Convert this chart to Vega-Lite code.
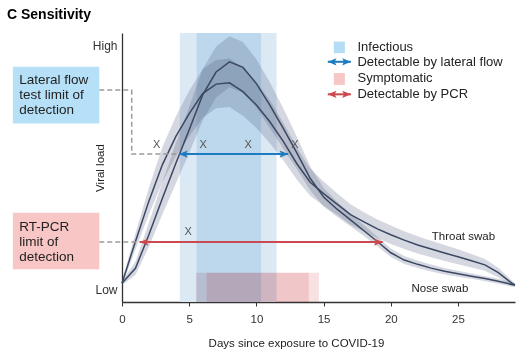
{
  "$schema": "https://vega.github.io/schema/vega-lite/v6.json",
  "width": 393,
  "height": 269,
  "autosize": {"type": "none"},
  "padding": {"left": 122, "top": 33, "right": 15, "bottom": 57},
  "background": "white",
  "title": {"text": "C Sensitivity", "anchor": "start", "frame": "group", "dx": -115, "offset": 11, "fontSize": 14, "fontWeight": "bold", "font": "Liberation Sans", "color": "#000"},
  "resolve": {"scale": {"color": "independent", "shape": "independent"}},
  "config": {
    "view": {"stroke": null},
    "font": "Liberation Sans",
    "axis": {"grid": false, "domainColor": "#333", "domainWidth": 1.3, "tickColor": "#333", "labelColor": "#333", "titleColor": "#222", "labelFont": "Liberation Sans", "titleFont": "Liberation Sans", "titleFontWeight": "normal", "zindex": 1}
  },
  "datasets": {
    "inf": [
      {"x": 4.3, "x2": 11.5, "v": 0, "v2": 100, "k": "a"},
      {"x": 5.55, "x2": 10.35, "v": 0, "v2": 100, "k": "b"}
    ],
    "symp": [
      {"x": 5.5, "x2": 14.65, "v": 0, "v2": 10.9},
      {"x": 6.3, "x2": 13.9, "v": 0, "v2": 10.9}
    ],
    "curves": [
      {"x": 0, "s": "Nose", "v": 7.0, "lo": 6.2, "hi": 7.8},
      {"x": 1, "s": "Nose", "v": 12.5, "lo": 10, "hi": 15},
      {"x": 2, "s": "Nose", "v": 25, "lo": 20.5, "hi": 29.5},
      {"x": 3, "s": "Nose", "v": 38.5, "lo": 32.5, "hi": 44.5},
      {"x": 4, "s": "Nose", "v": 51.5, "lo": 44, "hi": 59},
      {"x": 5, "s": "Nose", "v": 64, "lo": 55.5, "hi": 72.5},
      {"x": 6, "s": "Nose", "v": 77, "lo": 67.5, "hi": 86.5},
      {"x": 7, "s": "Nose", "v": 85.5, "lo": 76, "hi": 95},
      {"x": 8, "s": "Nose", "v": 89.3, "lo": 79.8, "hi": 98.8},
      {"x": 9, "s": "Nose", "v": 87.2, "lo": 77.7, "hi": 96.7},
      {"x": 10, "s": "Nose", "v": 81.2, "lo": 72.2, "hi": 90.2},
      {"x": 11, "s": "Nose", "v": 73.2, "lo": 64.7, "hi": 81.7},
      {"x": 12, "s": "Nose", "v": 64.5, "lo": 57, "hi": 72},
      {"x": 13, "s": "Nose", "v": 55.5, "lo": 49.5, "hi": 61.5},
      {"x": 14, "s": "Nose", "v": 46, "lo": 41.5, "hi": 50.5},
      {"x": 15, "s": "Nose", "v": 39, "lo": 35.5, "hi": 42.5},
      {"x": 16, "s": "Nose", "v": 34.5, "lo": 31.7, "hi": 37.3},
      {"x": 17, "s": "Nose", "v": 30.5, "lo": 28.2, "hi": 32.8},
      {"x": 18, "s": "Nose", "v": 26.5, "lo": 24.5, "hi": 28.5},
      {"x": 19, "s": "Nose", "v": 22.5, "lo": 20.7, "hi": 24.3},
      {"x": 20, "s": "Nose", "v": 18.3, "lo": 16.7, "hi": 19.9},
      {"x": 21, "s": "Nose", "v": 15.6, "lo": 14.1, "hi": 17.1},
      {"x": 22, "s": "Nose", "v": 14, "lo": 12.6, "hi": 15.4},
      {"x": 23, "s": "Nose", "v": 12.6, "lo": 11.3, "hi": 13.9},
      {"x": 24, "s": "Nose", "v": 11.4, "lo": 10.2, "hi": 12.6},
      {"x": 25, "s": "Nose", "v": 10.5, "lo": 9.4, "hi": 11.6},
      {"x": 26, "s": "Nose", "v": 9.6, "lo": 8.6, "hi": 10.6},
      {"x": 27, "s": "Nose", "v": 8.7, "lo": 7.7, "hi": 9.7},
      {"x": 28, "s": "Nose", "v": 7.7, "lo": 6.8, "hi": 8.6},
      {"x": 29, "s": "Nose", "v": 6.5, "lo": 5.7, "hi": 7.3},
      {"x": 29.24, "s": "Nose", "v": 6.3, "lo": 5.7, "hi": 6.9},
      {"x": 0, "s": "Throat", "v": 7.0, "lo": 6, "hi": 8},
      {"x": 1, "s": "Throat", "v": 22.5, "lo": 19.5, "hi": 25.5},
      {"x": 2, "s": "Throat", "v": 37.5, "lo": 32.5, "hi": 42.5},
      {"x": 3, "s": "Throat", "v": 51, "lo": 44.5, "hi": 57.5},
      {"x": 4, "s": "Throat", "v": 61.5, "lo": 54, "hi": 69},
      {"x": 5, "s": "Throat", "v": 70, "lo": 61.5, "hi": 78.5},
      {"x": 6, "s": "Throat", "v": 77.5, "lo": 68.5, "hi": 86.5},
      {"x": 7, "s": "Throat", "v": 81, "lo": 72, "hi": 90},
      {"x": 8, "s": "Throat", "v": 81.5, "lo": 72.5, "hi": 90.5},
      {"x": 9, "s": "Throat", "v": 78.2, "lo": 69.2, "hi": 87.2},
      {"x": 10, "s": "Throat", "v": 73.2, "lo": 64.7, "hi": 81.7},
      {"x": 11, "s": "Throat", "v": 67, "lo": 59, "hi": 75},
      {"x": 12, "s": "Throat", "v": 59.7, "lo": 52.7, "hi": 66.7},
      {"x": 13, "s": "Throat", "v": 51.5, "lo": 45.5, "hi": 57.5},
      {"x": 14, "s": "Throat", "v": 44.5, "lo": 39.5, "hi": 49.5},
      {"x": 15, "s": "Throat", "v": 40.3, "lo": 35.8, "hi": 44.8},
      {"x": 16, "s": "Throat", "v": 36.4, "lo": 32.4, "hi": 40.4},
      {"x": 17, "s": "Throat", "v": 32.5, "lo": 28.7, "hi": 36.3},
      {"x": 18, "s": "Throat", "v": 29.8, "lo": 26.2, "hi": 33.4},
      {"x": 19, "s": "Throat", "v": 27.2, "lo": 23.7, "hi": 30.7},
      {"x": 20, "s": "Throat", "v": 25, "lo": 21.6, "hi": 28.4},
      {"x": 21, "s": "Throat", "v": 23, "lo": 19.7, "hi": 26.3},
      {"x": 22, "s": "Throat", "v": 21.2, "lo": 18, "hi": 24.4},
      {"x": 23, "s": "Throat", "v": 19.7, "lo": 16.6, "hi": 22.8},
      {"x": 24, "s": "Throat", "v": 18.2, "lo": 15.2, "hi": 21.2},
      {"x": 25, "s": "Throat", "v": 16.8, "lo": 14, "hi": 19.6},
      {"x": 26, "s": "Throat", "v": 15.3, "lo": 12.8, "hi": 17.8},
      {"x": 27, "s": "Throat", "v": 13.8, "lo": 11.6, "hi": 16},
      {"x": 28, "s": "Throat", "v": 10.9, "lo": 9.1, "hi": 12.7},
      {"x": 29, "s": "Throat", "v": 7, "lo": 6, "hi": 8},
      {"x": 29.24, "s": "Throat", "v": 6.3, "lo": 5.8, "hi": 6.8}
    ],
    "dashed": [
      {"g": "lft", "i": 0, "x": -1.69, "v": 78.8},
      {"g": "lft", "i": 1, "x": 0.72, "v": 78.8},
      {"g": "lft", "i": 2, "x": 0.72, "v": 55},
      {"g": "lft", "i": 3, "x": 4.24, "v": 55},
      {"g": "pcr", "i": 0, "x": -1.69, "v": 22.3},
      {"g": "pcr", "i": 1, "x": 1.32, "v": 22.3}
    ],
    "arrows": [
      {"a": "lft", "x": 4.24, "x2": 12.37, "v": 55},
      {"a": "pcr", "x": 1.32, "x2": 19.4, "v": 22.3},
      {"a": "lft", "x": 15.31, "x2": 17.03, "v": 89.3},
      {"a": "pcr", "x": 15.31, "x2": 17.03, "v": 77.2}
    ],
    "heads": [
      {"a": "lft", "dir": "L", "x": 4.24, "v": 55},
      {"a": "lft", "dir": "R", "x": 12.37, "v": 55},
      {"a": "pcr", "dir": "L", "x": 1.32, "v": 22.3},
      {"a": "pcr", "dir": "R", "x": 19.4, "v": 22.3},
      {"a": "lft", "dir": "L", "x": 15.31, "v": 89.3},
      {"a": "lft", "dir": "R", "x": 17.03, "v": 89.3},
      {"a": "pcr", "dir": "L", "x": 15.31, "v": 77.2},
      {"a": "pcr", "dir": "R", "x": 17.03, "v": 77.2}
    ],
    "xs": [
      {"x": 2.58, "v": 58.4},
      {"x": 6.04, "v": 58.4},
      {"x": 9.39, "v": 58.4},
      {"x": 12.86, "v": 58.4},
      {"x": 4.93, "v": 26.1}
    ],
    "legsq": [
      {"k": "inf", "x": 15.76, "x2": 16.58, "v": 92.5, "v2": 96.8},
      {"k": "sym", "x": 15.76, "x2": 16.58, "v": 80.7, "v2": 85.1}
    ],
    "legtext": [
      {"t": "Infectious", "x": 17.52, "v": 94.9},
      {"t": "Detectable by lateral flow", "x": 17.52, "v": 89.1},
      {"t": "Symptomatic", "x": 17.52, "v": 83.3},
      {"t": "Detectable by PCR", "x": 17.52, "v": 77.2}
    ],
    "boxes": [
      {"k": "lft", "x": -8.12, "x2": -1.69, "v": 66.4, "v2": 87.5, "tx": -7.64, "tv": 82.5, "t": "Lateral flow\ntest limit of\ndetection"},
      {"k": "pcr", "x": -8.12, "x2": -1.69, "v": 12.2, "v2": 33.2, "tx": -7.64, "tv": 28.0, "t": "RT-PCR\nlimit of\ndetection"}
    ],
    "clabels": [
      {"t": "Throat swab", "x": 23.05, "v": 24.2},
      {"t": "Nose swab", "x": 21.54, "v": 4.8}
    ]
  },
  "layer": [
    {
      "data": {"name": "inf"},
      "mark": {"type": "rect"},
      "encoding": {
        "x": {"field": "x", "type": "quantitative", "scale": {"domain": [0, 29.24], "nice": false, "zero": false},
              "axis": {"values": [0, 5, 10, 15, 20, 25], "title": "Days since exposure to COVID-19", "tickSize": 4, "labelPadding": 7, "labelFontSize": 11.5, "titleFontSize": 11.5, "titleX": 174, "titleY": 41, "titleBaseline": "middle", "labelFlush": false}},
        "x2": {"field": "x2"},
        "y": {"field": "v", "type": "quantitative", "scale": {"domain": [0, 100], "nice": false},
              "axis": {"values": [4.5, 95.5], "labelExpr": "datum.value > 50 ? 'High' : 'Low'", "ticks": false, "labelPadding": 5, "labelFontSize": 12, "title": "Viral load", "titleFontSize": 11.5, "titleX": -22, "titleY": 134.5, "titleBaseline": "middle"}},
        "y2": {"field": "v2"},
        "color": {"field": "k", "type": "nominal", "scale": {"domain": ["a", "b"], "range": ["#dbe9f5", "#bdd8ec"]}, "legend": null}
      }
    },
    {
      "data": {"name": "symp"},
      "mark": {"type": "rect", "color": "#f8e1e2", "blend": "multiply"},
      "encoding": {
        "x": {"field": "x", "type": "quantitative", "scale": {"domain": [0, 29.24], "nice": false, "zero": false},
              "axis": {"values": [0, 5, 10, 15, 20, 25], "title": "Days since exposure to COVID-19", "tickSize": 4, "labelPadding": 7, "labelFontSize": 11.5, "titleFontSize": 11.5, "titleX": 174, "titleY": 41, "titleBaseline": "middle", "labelFlush": false}},
        "x2": {"field": "x2"},
        "y": {"field": "v", "type": "quantitative", "scale": {"domain": [0, 100], "nice": false},
              "axis": {"values": [4.5, 95.5], "labelExpr": "datum.value > 50 ? 'High' : 'Low'", "ticks": false, "labelPadding": 5, "labelFontSize": 12, "title": "Viral load", "titleFontSize": 11.5, "titleX": -22, "titleY": 134.5, "titleBaseline": "middle"}},
        "y2": {"field": "v2"}
      }
    },
    {
      "data": {"name": "curves"},
      "mark": {"type": "area", "color": "#4a5878", "opacity": 0.23},
      "encoding": {
        "x": {"field": "x", "type": "quantitative", "scale": {"domain": [0, 29.24], "nice": false, "zero": false},
              "axis": {"values": [0, 5, 10, 15, 20, 25], "title": "Days since exposure to COVID-19", "tickSize": 4, "labelPadding": 7, "labelFontSize": 11.5, "titleFontSize": 11.5, "titleX": 174, "titleY": 41, "titleBaseline": "middle", "labelFlush": false}},
        "y": {"field": "lo", "type": "quantitative", "scale": {"domain": [0, 100], "nice": false},
              "axis": {"values": [4.5, 95.5], "labelExpr": "datum.value > 50 ? 'High' : 'Low'", "ticks": false, "labelPadding": 5, "labelFontSize": 12, "title": "Viral load", "titleFontSize": 11.5, "titleX": -22, "titleY": 134.5, "titleBaseline": "middle"}},
        "y2": {"field": "hi"},
        "detail": {"field": "s"}
      }
    },
    {
      "data": {"name": "curves"},
      "mark": {"type": "line", "color": "#3b4763", "strokeWidth": 1.5},
      "encoding": {
        "x": {"field": "x", "type": "quantitative", "scale": {"domain": [0, 29.24], "nice": false, "zero": false},
              "axis": {"values": [0, 5, 10, 15, 20, 25], "title": "Days since exposure to COVID-19", "tickSize": 4, "labelPadding": 7, "labelFontSize": 11.5, "titleFontSize": 11.5, "titleX": 174, "titleY": 41, "titleBaseline": "middle", "labelFlush": false}},
        "y": {"field": "v", "type": "quantitative", "scale": {"domain": [0, 100], "nice": false},
              "axis": {"values": [4.5, 95.5], "labelExpr": "datum.value > 50 ? 'High' : 'Low'", "ticks": false, "labelPadding": 5, "labelFontSize": 12, "title": "Viral load", "titleFontSize": 11.5, "titleX": -22, "titleY": 134.5, "titleBaseline": "middle"}},
        "detail": {"field": "s"}
      }
    },
    {
      "data": {"name": "dashed"},
      "mark": {"type": "line", "color": "#9b9b9b", "strokeWidth": 1.5, "strokeDash": [5, 3]},
      "encoding": {
        "x": {"field": "x", "type": "quantitative", "scale": {"domain": [0, 29.24], "nice": false, "zero": false},
              "axis": {"values": [0, 5, 10, 15, 20, 25], "title": "Days since exposure to COVID-19", "tickSize": 4, "labelPadding": 7, "labelFontSize": 11.5, "titleFontSize": 11.5, "titleX": 174, "titleY": 41, "titleBaseline": "middle", "labelFlush": false}},
        "y": {"field": "v", "type": "quantitative", "scale": {"domain": [0, 100], "nice": false},
              "axis": {"values": [4.5, 95.5], "labelExpr": "datum.value > 50 ? 'High' : 'Low'", "ticks": false, "labelPadding": 5, "labelFontSize": 12, "title": "Viral load", "titleFontSize": 11.5, "titleX": -22, "titleY": 134.5, "titleBaseline": "middle"}},
        "detail": {"field": "g"},
        "order": {"field": "i"}
      }
    },
    {
      "data": {"name": "arrows"},
      "mark": {"type": "rule", "strokeWidth": 2},
      "encoding": {
        "x": {"field": "x", "type": "quantitative", "scale": {"domain": [0, 29.24], "nice": false, "zero": false},
              "axis": {"values": [0, 5, 10, 15, 20, 25], "title": "Days since exposure to COVID-19", "tickSize": 4, "labelPadding": 7, "labelFontSize": 11.5, "titleFontSize": 11.5, "titleX": 174, "titleY": 41, "titleBaseline": "middle", "labelFlush": false}},
        "x2": {"field": "x2"},
        "y": {"field": "v", "type": "quantitative", "scale": {"domain": [0, 100], "nice": false},
              "axis": {"values": [4.5, 95.5], "labelExpr": "datum.value > 50 ? 'High' : 'Low'", "ticks": false, "labelPadding": 5, "labelFontSize": 12, "title": "Viral load", "titleFontSize": 11.5, "titleX": -22, "titleY": 134.5, "titleBaseline": "middle"}},
        "color": {"field": "a", "type": "nominal", "scale": {"domain": ["lft", "pcr"], "range": ["#1d7cbf", "#cc4a4f"]}, "legend": null}
      }
    },
    {
      "data": {"name": "heads"},
      "mark": {"type": "point", "filled": true, "opacity": 1, "size": 300, "strokeWidth": 0},
      "encoding": {
        "x": {"field": "x", "type": "quantitative", "scale": {"domain": [0, 29.24], "nice": false, "zero": false},
              "axis": {"values": [0, 5, 10, 15, 20, 25], "title": "Days since exposure to COVID-19", "tickSize": 4, "labelPadding": 7, "labelFontSize": 11.5, "titleFontSize": 11.5, "titleX": 174, "titleY": 41, "titleBaseline": "middle", "labelFlush": false}},
        "y": {"field": "v", "type": "quantitative", "scale": {"domain": [0, 100], "nice": false},
              "axis": {"values": [4.5, 95.5], "labelExpr": "datum.value > 50 ? 'High' : 'Low'", "ticks": false, "labelPadding": 5, "labelFontSize": 12, "title": "Viral load", "titleFontSize": 11.5, "titleX": -22, "titleY": 134.5, "titleBaseline": "middle"}},
        "color": {"field": "a", "type": "nominal", "scale": {"domain": ["lft", "pcr"], "range": ["#1d7cbf", "#cc4a4f"]}, "legend": null},
        "shape": {"field": "dir", "type": "nominal", "scale": {"domain": ["L", "R"], "range": ["M0,0L1,-0.42L0.8,0L1,0.42Z", "M0,0L-1,-0.42L-0.8,0L-1,0.42Z"]}, "legend": null}
      }
    },
    {
      "data": {"name": "xs"},
      "mark": {"type": "text", "text": "X", "fontSize": 11, "color": "#555", "baseline": "middle", "align": "center"},
      "encoding": {
        "x": {"field": "x", "type": "quantitative", "scale": {"domain": [0, 29.24], "nice": false, "zero": false},
              "axis": {"values": [0, 5, 10, 15, 20, 25], "title": "Days since exposure to COVID-19", "tickSize": 4, "labelPadding": 7, "labelFontSize": 11.5, "titleFontSize": 11.5, "titleX": 174, "titleY": 41, "titleBaseline": "middle", "labelFlush": false}},
        "y": {"field": "v", "type": "quantitative", "scale": {"domain": [0, 100], "nice": false},
              "axis": {"values": [4.5, 95.5], "labelExpr": "datum.value > 50 ? 'High' : 'Low'", "ticks": false, "labelPadding": 5, "labelFontSize": 12, "title": "Viral load", "titleFontSize": 11.5, "titleX": -22, "titleY": 134.5, "titleBaseline": "middle"}}
      }
    },
    {
      "data": {"name": "legsq"},
      "mark": {"type": "rect"},
      "encoding": {
        "x": {"field": "x", "type": "quantitative", "scale": {"domain": [0, 29.24], "nice": false, "zero": false},
              "axis": {"values": [0, 5, 10, 15, 20, 25], "title": "Days since exposure to COVID-19", "tickSize": 4, "labelPadding": 7, "labelFontSize": 11.5, "titleFontSize": 11.5, "titleX": 174, "titleY": 41, "titleBaseline": "middle", "labelFlush": false}},
        "x2": {"field": "x2"},
        "y": {"field": "v", "type": "quantitative", "scale": {"domain": [0, 100], "nice": false},
              "axis": {"values": [4.5, 95.5], "labelExpr": "datum.value > 50 ? 'High' : 'Low'", "ticks": false, "labelPadding": 5, "labelFontSize": 12, "title": "Viral load", "titleFontSize": 11.5, "titleX": -22, "titleY": 134.5, "titleBaseline": "middle"}},
        "y2": {"field": "v2"},
        "color": {"field": "k", "type": "nominal", "scale": {"domain": ["inf", "sym"], "range": ["#b4dcf5", "#f7c6c6"]}, "legend": null}
      }
    },
    {
      "data": {"name": "legtext"},
      "mark": {"type": "text", "fontSize": 13, "color": "#222", "align": "left", "baseline": "middle"},
      "encoding": {
        "x": {"field": "x", "type": "quantitative", "scale": {"domain": [0, 29.24], "nice": false, "zero": false},
              "axis": {"values": [0, 5, 10, 15, 20, 25], "title": "Days since exposure to COVID-19", "tickSize": 4, "labelPadding": 7, "labelFontSize": 11.5, "titleFontSize": 11.5, "titleX": 174, "titleY": 41, "titleBaseline": "middle", "labelFlush": false}},
        "y": {"field": "v", "type": "quantitative", "scale": {"domain": [0, 100], "nice": false},
              "axis": {"values": [4.5, 95.5], "labelExpr": "datum.value > 50 ? 'High' : 'Low'", "ticks": false, "labelPadding": 5, "labelFontSize": 12, "title": "Viral load", "titleFontSize": 11.5, "titleX": -22, "titleY": 134.5, "titleBaseline": "middle"}},
        "text": {"field": "t"}
      }
    },
    {
      "data": {"name": "boxes"},
      "mark": {"type": "rect"},
      "encoding": {
        "x": {"field": "x", "type": "quantitative", "scale": {"domain": [0, 29.24], "nice": false, "zero": false},
              "axis": {"values": [0, 5, 10, 15, 20, 25], "title": "Days since exposure to COVID-19", "tickSize": 4, "labelPadding": 7, "labelFontSize": 11.5, "titleFontSize": 11.5, "titleX": 174, "titleY": 41, "titleBaseline": "middle", "labelFlush": false}},
        "x2": {"field": "x2"},
        "y": {"field": "v", "type": "quantitative", "scale": {"domain": [0, 100], "nice": false},
              "axis": {"values": [4.5, 95.5], "labelExpr": "datum.value > 50 ? 'High' : 'Low'", "ticks": false, "labelPadding": 5, "labelFontSize": 12, "title": "Viral load", "titleFontSize": 11.5, "titleX": -22, "titleY": 134.5, "titleBaseline": "middle"}},
        "y2": {"field": "v2"},
        "color": {"field": "k", "type": "nominal", "scale": {"domain": ["lft", "pcr"], "range": ["#b6e0f7", "#f8c7c5"]}, "legend": null}
      }
    },
    {
      "data": {"name": "boxes"},
      "mark": {"type": "text", "fontSize": 13.5, "color": "#222", "align": "left", "baseline": "middle", "lineBreak": "\n", "lineHeight": 15},
      "encoding": {
        "x": {"field": "tx", "type": "quantitative", "scale": {"domain": [0, 29.24], "nice": false, "zero": false},
              "axis": {"values": [0, 5, 10, 15, 20, 25], "title": "Days since exposure to COVID-19", "tickSize": 4, "labelPadding": 7, "labelFontSize": 11.5, "titleFontSize": 11.5, "titleX": 174, "titleY": 41, "titleBaseline": "middle", "labelFlush": false}},
        "y": {"field": "tv", "type": "quantitative", "scale": {"domain": [0, 100], "nice": false},
              "axis": {"values": [4.5, 95.5], "labelExpr": "datum.value > 50 ? 'High' : 'Low'", "ticks": false, "labelPadding": 5, "labelFontSize": 12, "title": "Viral load", "titleFontSize": 11.5, "titleX": -22, "titleY": 134.5, "titleBaseline": "middle"}},
        "text": {"field": "t"}
      }
    },
    {
      "data": {"name": "clabels"},
      "mark": {"type": "text", "fontSize": 11.5, "color": "#222", "align": "left", "baseline": "middle"},
      "encoding": {
        "x": {"field": "x", "type": "quantitative", "scale": {"domain": [0, 29.24], "nice": false, "zero": false},
              "axis": {"values": [0, 5, 10, 15, 20, 25], "title": "Days since exposure to COVID-19", "tickSize": 4, "labelPadding": 7, "labelFontSize": 11.5, "titleFontSize": 11.5, "titleX": 174, "titleY": 41, "titleBaseline": "middle", "labelFlush": false}},
        "y": {"field": "v", "type": "quantitative", "scale": {"domain": [0, 100], "nice": false},
              "axis": {"values": [4.5, 95.5], "labelExpr": "datum.value > 50 ? 'High' : 'Low'", "ticks": false, "labelPadding": 5, "labelFontSize": 12, "title": "Viral load", "titleFontSize": 11.5, "titleX": -22, "titleY": 134.5, "titleBaseline": "middle"}},
        "text": {"field": "t"}
      }
    }
  ]
}
